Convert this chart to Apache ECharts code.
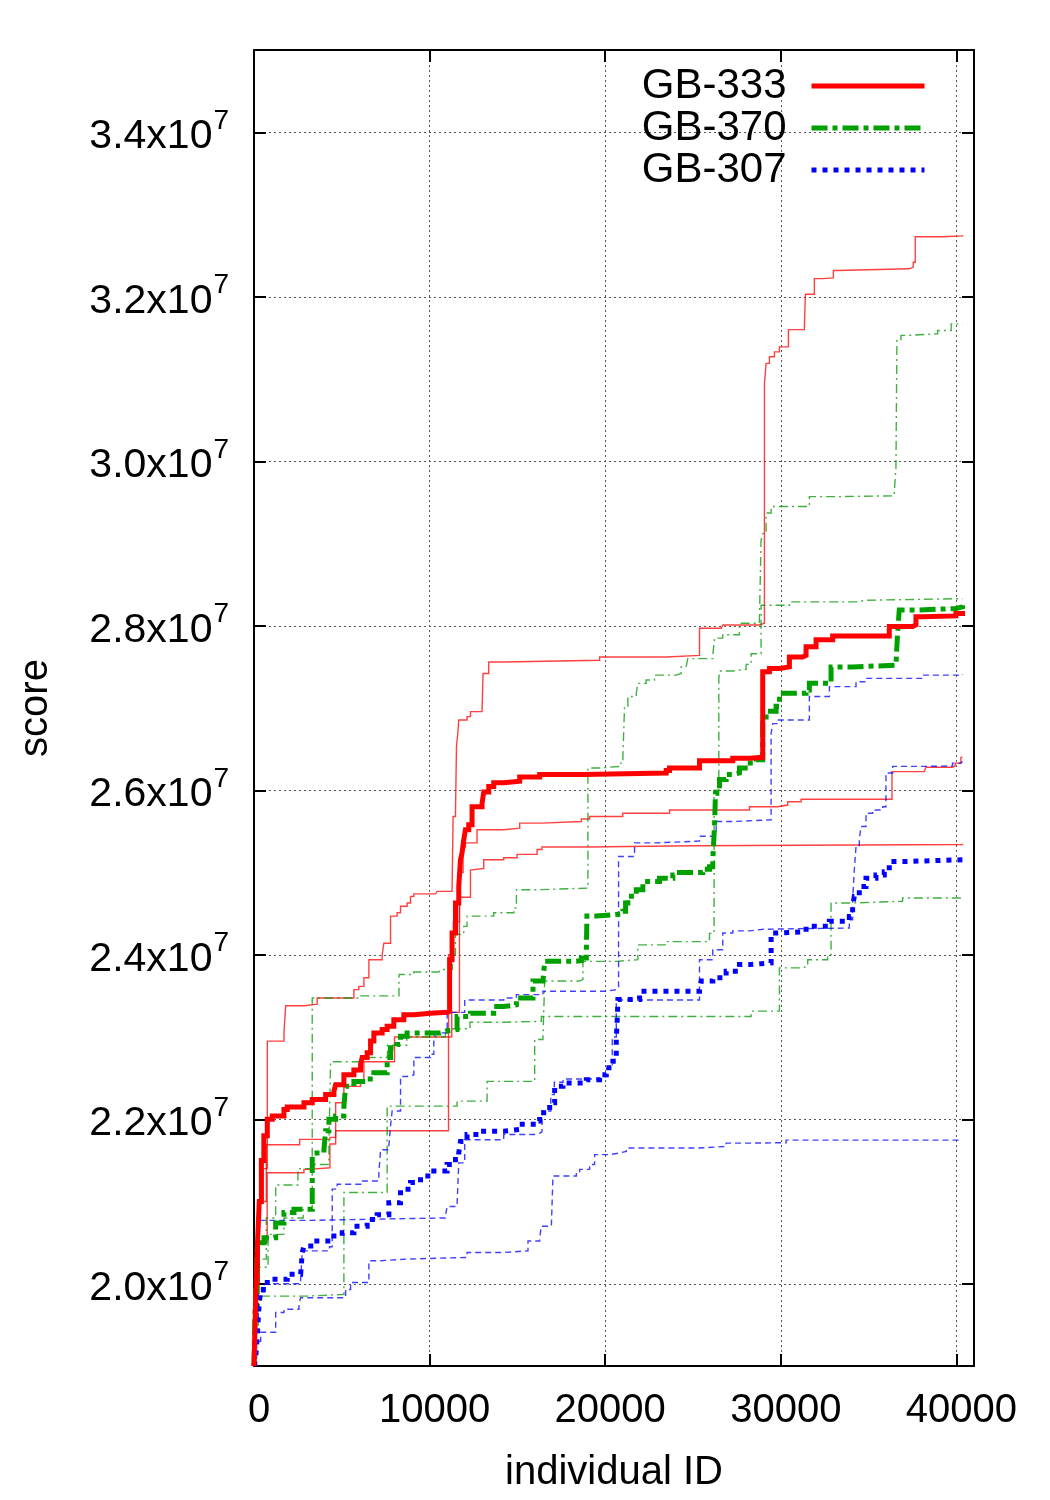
<!DOCTYPE html>
<html><head><meta charset="utf-8">
<script src="https://cdn.jsdelivr.net/npm/echarts@6/dist/echarts.min.js"></script>
<style>html,body{margin:0;padding:0;background:#fff}#c{width:1050px;height:1500px}</style>
</head><body><div id="c"></div>
<script>
const xTicks = [0, 10000, 20000, 30000, 40000];
const yTicks = [2.0e7, 2.2e7, 2.4e7, 2.6e7, 2.8e7, 3.0e7, 3.2e7, 3.4e7];
const legendNames = ['GB-333', 'GB-370', 'GB-307'];

// GB-333 average (thick) and three runs (thin)
const red333avg = [[0,1.90e7],[60,1.95e7],[120,2.00e7],[200,2.05e7],[300,2.10e7],[420,2.15e7],[560,2.18e7],[757,2.200e7],[1041,2.204e7],[1706,2.212e7],[1894,2.215e7],[2844,2.220e7],[3316,2.224e7],[4078,2.230e7],[4550,2.234e7],[4647,2.242e7],[5119,2.254e7],[5688,2.260e7],[6069,2.267e7],[6160,2.275e7],[6444,2.281e7],[6638,2.295e7],[6826,2.305e7],[7298,2.309e7],[7582,2.313e7],[7963,2.321e7],[8532,2.327e7],[9101,2.329e7],[10051,2.330e7],[10995,2.331e7],[11140,2.394e7],[11279,2.4265e7],[11473,2.463e7],[11660,2.483e7],[11757,2.5155e7],[11848,2.524e7],[11945,2.540e7],[12041,2.552e7],[12229,2.558e7],[12417,2.580e7],[12986,2.584e7],[13082,2.598e7],[13367,2.6045e7],[13651,2.609e7],[14220,2.611e7],[15130,2.616e7],[16267,2.619e7],[18731,2.621e7],[23474,2.624e7],[23662,2.627e7],[25369,2.636e7],[27262,2.639e7],[28212,2.640e7],[28969,2.744e7],[29350,2.748e7],[29919,2.750e7],[30488,2.762e7],[31244,2.764e7],[31437,2.7745e7],[32006,2.783e7],[32951,2.7875e7],[36176,2.799e7],[37500,2.801e7],[37694,2.811e7],[38069,2.812e7],[39970,2.815e7],[40345,2.818e7]];
const red333runA = [[0,1.90e7],[100,2.00e7],[300,2.10e7],[500,2.14e7],[757,2.295e7],[1706,2.305e7],[1803,2.338e7],[2844,2.340e7],[3600,2.3475e7],[5688,2.3576e7],[5972,2.3616e7],[6257,2.372e7],[6541,2.394e7],[7298,2.400e7],[7394,2.414e7],[7775,2.447e7],[8151,2.451e7],[8344,2.459e7],[8720,2.463e7],[8913,2.471e7],[9101,2.474e7],[10335,2.475e7],[10426,2.477e7],[11279,2.478e7],[11336,2.568e7],[11473,2.572e7],[11530,2.653e7],[11604,2.669e7],[11660,2.6855e7],[12132,2.6895e7],[12326,2.6956e7],[12986,2.6976e7],[13043,2.742e7],[13367,2.756e7],[14220,2.758e7],[19680,2.762e7],[23474,2.764e7],[25369,2.797e7],[26602,2.798e7],[26694,2.801e7],[28781,2.803e7],[29066,3.094e7],[29162,3.119e7],[29350,3.127e7],[29634,3.133e7],[29919,3.139e7],[30431,3.160e7],[31341,3.163e7],[31398,3.203e7],[31909,3.222e7],[32382,3.223e7],[32991,3.232e7],[33235,3.234e7],[37313,3.236e7],[37540,3.242e7],[37654,3.273e7],[39207,3.274e7],[40345,3.275e7]];
const red333runB = [[0,1.90e7],[100,2.00e7],[300,2.10e7],[700,2.169e7],[2600,2.1755e7],[4323,2.178e7],[4650,2.186e7],[11076,2.40e7],[11350,2.44e7],[11700,2.47e7],[12326,2.503e7],[12417,2.505e7],[13082,2.5155e7],[14220,2.518e7],[14980,2.522e7],[16120,2.528e7],[16400,2.531e7],[18960,2.5325e7],[25000,2.534e7],[40345,2.535e7]];
const red333runC = [[0,1.90e7],[60,1.96e7],[200,2.05e7],[750,2.135e7],[2844,2.139e7],[3130,2.141e7],[4323,2.17e7],[4650,2.22e7],[5119,2.24e7],[6069,2.245e7],[6257,2.27e7],[8000,2.30e7],[11260,2.33e7],[11700,2.50e7],[11905,2.531e7],[12041,2.536e7],[12701,2.552e7],[14220,2.554e7],[15130,2.560e7],[16364,2.562e7],[18640,2.565e7],[19112,2.568e7],[21000,2.572e7],[23662,2.576e7],[28212,2.580e7],[29822,2.582e7],[30391,2.586e7],[31153,2.589e7],[36329,2.6227e7],[38166,2.624e7],[38263,2.628e7],[39776,2.6296e7],[39930,2.633e7],[40254,2.640e7],[40345,2.640e7]];

// GB-370
const green370avg = [[0,1.90e7],[50,1.96e7],[120,2.00e7],[188,2.050e7],[569,2.056e7],[1234,2.074e7],[1706,2.0865e7],[2275,2.0905e7],[3316,2.155e7],[3413,2.159e7],[3982,2.163e7],[4078,2.186e7],[4266,2.200e7],[4647,2.204e7],[5119,2.216e7],[5216,2.240e7],[5688,2.246e7],[6444,2.249e7],[6826,2.2565e7],[7582,2.275e7],[7775,2.287e7],[8151,2.291e7],[8344,2.301e7],[8720,2.305e7],[10619,2.307e7],[10904,2.309e7],[11564,2.325e7],[12326,2.329e7],[13651,2.337e7],[14220,2.339e7],[14942,2.3475e7],[15887,2.368e7],[16455,2.370e7],[16552,2.392e7],[18355,2.393e7],[18640,2.396e7],[18924,2.402e7],[18958,2.447e7],[19493,2.449e7],[20630,2.450e7],[21006,2.453e7],[21159,2.463e7],[21290,2.471e7],[21768,2.479e7],[22143,2.489e7],[23093,2.493e7],[23850,2.497e7],[24231,2.500e7],[25556,2.504e7],[25937,2.507e7],[26125,2.5155e7],[26222,2.556e7],[26279,2.5965e7],[26506,2.613e7],[26887,2.619e7],[27262,2.621e7],[27643,2.627e7],[28115,2.633e7],[28600,2.637e7],[28969,2.6815e7],[29162,2.696e7],[29731,2.702e7],[29919,2.718e7],[31437,2.722e7],[31625,2.730e7],[32860,2.750e7],[34088,2.752e7],[36556,2.754e7],[36647,2.791e7],[36744,2.819e7],[37694,2.821e7],[39970,2.823e7],[40345,2.825e7]];
const green370runA = [[0,1.90e7],[80,1.97e7],[300,2.02e7],[800,2.06e7],[1700,2.08e7],[2800,2.09e7],[3316,2.3475e7],[6000,2.350e7],[8258,2.376e7],[9101,2.379e7],[10523,2.380e7],[10619,2.382e7],[11300,2.40e7],[11473,2.425e7],[11945,2.4345e7],[12132,2.447e7],[13651,2.451e7],[14800,2.457e7],[14942,2.479e7],[16080,2.481e7],[19015,2.627e7],[19680,2.629e7],[20818,2.633e7],[21006,2.641e7],[21100,2.702e7],[21290,2.714e7],[21768,2.718e7],[21860,2.730e7],[22331,2.734e7],[22803,2.740e7],[24037,2.742e7],[24322,2.750e7],[24606,2.752e7],[24700,2.760e7],[26125,2.763e7],[26222,2.785e7],[26694,2.789e7],[27643,2.803e7],[28781,2.807e7],[28875,2.904e7],[28969,2.912e7],[29162,2.937e7],[29446,2.945e7],[31625,2.957e7],[33424,2.958e7],[36460,2.962e7],[36556,2.993e7],[36610,3.147e7],[36840,3.153e7],[37220,3.155e7],[38930,3.159e7],[39700,3.167e7],[40345,3.167e7]];
const green370runB = [[0,1.90e7],[60,1.95e7],[250,1.98e7],[400,1.985e7],[3000,1.987e7],[5119,2.111e7],[7582,2.216e7],[11564,2.222e7],[13272,2.246e7],[15983,2.297e7],[16455,2.300e7],[16552,2.368e7],[18543,2.370e7],[18731,2.392e7],[20630,2.394e7],[21860,2.412e7],[23474,2.416e7],[25937,2.426e7],[26200,2.60e7],[26469,2.735e7],[26506,2.745e7],[27262,2.747e7],[28024,2.753e7],[28308,2.766e7],[28875,2.825e7],[30488,2.829e7],[34281,2.831e7],[34850,2.833e7],[40345,2.833e7]];
const green370runC = [[0,1.90e7],[80,1.97e7],[250,2.03e7],[700,2.08e7],[1234,2.12e7],[2500,2.14e7],[3400,2.145e7],[4266,2.17e7],[4363,2.27e7],[6069,2.275e7],[7600,2.29e7],[8700,2.30e7],[10900,2.31e7],[12300,2.318e7],[14220,2.319e7],[16364,2.325e7],[28308,2.3315e7],[29919,2.384e7],[31244,2.386e7],[31530,2.394e7],[32667,2.400e7],[32860,2.463e7],[34088,2.465e7],[36933,2.469e7],[40345,2.470e7]];

// GB-307
const blue307avg = [[0,1.90e7],[100,1.91e7],[188,1.937e7],[284,1.973e7],[381,1.993e7],[757,2.0055e7],[1894,2.0115e7],[2656,2.0136e7],[2747,2.038e7],[2844,2.046e7],[3413,2.052e7],[4363,2.058e7],[5023,2.062e7],[5688,2.070e7],[6444,2.078e7],[7013,2.084e7],[7679,2.0986e7],[8344,2.115e7],[8913,2.123e7],[9482,2.131e7],[10238,2.137e7],[10995,2.145e7],[11473,2.151e7],[11660,2.159e7],[11757,2.173e7],[12132,2.1815e7],[12895,2.1855e7],[14220,2.1876e7],[15130,2.194e7],[16080,2.198e7],[16267,2.208e7],[16836,2.220e7],[17120,2.240e7],[17593,2.244e7],[18924,2.248e7],[19680,2.254e7],[20061,2.2625e7],[20437,2.2706e7],[20630,2.297e7],[20700,2.329e7],[20721,2.3455e7],[21956,2.3555e7],[25369,2.358e7],[25465,2.368e7],[26125,2.372e7],[26887,2.380e7],[27643,2.388e7],[28212,2.390e7],[29446,2.4265e7],[29822,2.428e7],[31437,2.4345e7],[32763,2.4406e7],[33901,2.4466e7],[34088,2.459e7],[34184,2.471e7],[34468,2.483e7],[34849,2.493e7],[35418,2.497e7],[35890,2.501e7],[36176,2.5134e7],[37125,2.5155e7],[40345,2.5175e7]];
const blue307runA = [[0,1.90e7],[80,1.96e7],[250,1.99e7],[600,2.00e7],[2656,2.005e7],[2750,2.04e7],[4300,2.045e7],[4454,2.115e7],[4738,2.121e7],[6069,2.125e7],[7110,2.135e7],[7207,2.163e7],[7679,2.167e7],[7775,2.192e7],[7866,2.210e7],[8344,2.252e7],[8720,2.254e7],[9101,2.275e7],[10051,2.279e7],[10238,2.297e7],[10335,2.305e7],[11000,2.33e7],[12000,2.345e7],[14220,2.3475e7],[14942,2.3515e7],[16455,2.3556e7],[20061,2.3576e7],[20630,2.360e7],[20760,2.5195e7],[21671,2.536e7],[22905,2.538e7],[25180,2.5385e7],[25369,2.544e7],[26125,2.546e7],[26318,2.562e7],[27262,2.564e7],[29446,2.669e7],[29540,2.681e7],[29822,2.6855e7],[31625,2.714e7],[32767,2.726e7],[34281,2.732e7],[34850,2.736e7],[38069,2.740e7],[40345,2.741e7]];
const blue307runB = [[0,1.90e7],[60,1.98e7],[188,2.077e7],[3000,2.078e7],[5500,2.080e7],[10900,2.083e7],[11000,2.094e7],[11560,2.096e7],[11660,2.147e7],[12000,2.175e7],[14220,2.1815e7],[15983,2.183e7],[16267,2.185e7],[16400,2.21e7],[16900,2.23e7],[17100,2.245e7],[17600,2.249e7],[19700,2.252e7],[20100,2.262e7],[20400,2.30e7],[20630,2.345e7],[25369,2.394e7],[26125,2.406e7],[26694,2.4265e7],[27262,2.429e7],[28212,2.431e7],[29000,2.4325e7],[33901,2.4426e7],[34088,2.467e7],[34184,2.503e7],[34281,2.5316e7],[34468,2.540e7],[34565,2.556e7],[34849,2.572e7],[35228,2.576e7],[35797,2.580e7],[35987,2.621e7],[36366,2.629e7],[38263,2.6296e7],[39776,2.633e7],[40254,2.635e7],[40345,2.635e7]];
const blue307runC = [[0,1.90e7],[150,1.93e7],[381,1.941e7],[1234,1.965e7],[1706,1.969e7],[2560,1.975e7],[2656,1.983e7],[5216,1.993e7],[5500,2.0015e7],[6541,2.028e7],[7207,2.030e7],[8720,2.032e7],[12132,2.038e7],[14220,2.040e7],[15602,2.052e7],[16267,2.056e7],[16364,2.070e7],[16933,2.072e7],[17024,2.131e7],[18355,2.135e7],[18543,2.139e7],[19112,2.145e7],[19396,2.157e7],[20249,2.159e7],[20818,2.161e7],[21199,2.165e7],[25369,2.167e7],[26887,2.171e7],[28212,2.1715e7],[30300,2.1746e7],[40345,2.175e7]];

const FONT = 'Liberation Sans, Arial, Helvetica, sans-serif';
const RED = '#ff0000', GREEN = '#00a000', BLUE = '#0000ff';
const thinRed = 'rgba(255,0,0,0.75)', thinGreen = 'rgba(0,150,0,0.75)', thinBlue = 'rgba(0,0,255,0.75)';

function line(name, data, color, width, dash, z) {
  return {
    name: name, type: 'line', data: data, step: 'end',
    showSymbol: false, symbol: 'none', silent: true, z: z,
    lineStyle: { color: color, width: width, type: dash, cap: 'butt', join: 'miter' },
    itemStyle: { color: color }
  };
}
const thinGreenDash = [9, 4, 2, 4];
const thinBlueDash = [6, 4];

const series = [
  line('r1', red333runA, thinRed, 1.4, 'solid', 2),
  line('r2', red333runB, thinRed, 1.4, 'solid', 2),
  line('r3', red333runC, thinRed, 1.4, 'solid', 2),
  line('g1', green370runA, thinGreen, 1.4, thinGreenDash, 2),
  line('g2', green370runB, thinGreen, 1.4, thinGreenDash, 2),
  line('g3', green370runC, thinGreen, 1.4, thinGreenDash, 2),
  line('b1', blue307runA, thinBlue, 1.4, thinBlueDash, 2),
  line('b2', blue307runB, thinBlue, 1.4, thinBlueDash, 2),
  line('b3', blue307runC, thinBlue, 1.4, thinBlueDash, 2),
  line(legendNames[1], green370avg, GREEN, 5, [16, 5, 5, 5], 4),
  line(legendNames[2], blue307avg, BLUE, 5, [5, 6], 4),
  line(legendNames[0], red333avg, RED, 5, 'solid', 5)
];

const tickStyle = { show: true, inside: true, length: 12, lineStyle: { color: '#000', width: 2 } };
const gridLine = { show: true, lineStyle: { color: '#555', width: 1, type: [2, 3] } };
const axisLine = { show: true, onZero: false, lineStyle: { color: '#000', width: 2 } };

const chart = echarts.init(document.getElementById('c'), null, { renderer: 'canvas' });
chart.setOption({
  animation: false,
  backgroundColor: '#fff',
  textStyle: { fontFamily: FONT },
  grid: { left: 254, right: 76, top: 50, bottom: 134, containLabel: false },
  legend: {
    data: legendNames, orient: 'vertical', right: 123, top: 65, align: 'right', padding: 0,
    itemWidth: 113, itemHeight: 2, itemGap: 0, selectedMode: false,
    itemStyle: { opacity: 0 },
    lineStyle: { width: 5 },
    textStyle: { fontSize: 42, fontFamily: FONT, color: '#000', lineHeight: 40, padding: [0, 20, 0, 0] }
  },
  xAxis: [
    { type: 'value', min: 0, max: 41000, position: 'bottom',
      name: 'individual ID', nameLocation: 'middle', nameGap: 87,
      nameTextStyle: { fontSize: 40, fontFamily: FONT, color: '#000' },
      axisLine: axisLine, axisTick: Object.assign({ customValues: xTicks }, tickStyle),
      axisLabel: { customValues: xTicks, fontSize: 40, fontFamily: FONT, color: '#000', margin: 25, padding: [0, 0, 0, 10],
        formatter: function (v) { return String(v); } },
      splitLine: gridLine },
    { type: 'value', min: 0, max: 41000, position: 'top',
      axisLine: axisLine, axisTick: Object.assign({ customValues: xTicks }, tickStyle),
      axisLabel: { show: false }, splitLine: { show: false } }
  ],
  yAxis: [
    { type: 'value', min: 1.9e7, max: 3.5e7, position: 'left',
      name: 'score', nameLocation: 'middle', nameGap: 198, nameRotate: 90,
      nameTextStyle: { fontSize: 40, fontFamily: FONT, color: '#000' },
      axisLine: axisLine, axisTick: Object.assign({ customValues: yTicks }, tickStyle),
      axisLabel: { customValues: yTicks, margin: 25, color: '#000',
        formatter: function (v) { return '{m|' + (v / 1e7).toFixed(1) + 'x10}{s|7}'; },
        rich: { m: { fontSize: 41, fontFamily: FONT, color: '#000', lineHeight: 50, verticalAlign: 'bottom' },
                s: { fontSize: 28, fontFamily: FONT, color: '#000', lineHeight: 50, verticalAlign: 'top', padding: [0, 0, 0, 1] } } },
      splitLine: gridLine },
    { type: 'value', min: 1.9e7, max: 3.5e7, position: 'right',
      axisLine: axisLine, axisTick: Object.assign({ customValues: yTicks }, tickStyle),
      axisLabel: { show: false }, splitLine: { show: false } }
  ],
  series: series
});
</script>
</body></html>
